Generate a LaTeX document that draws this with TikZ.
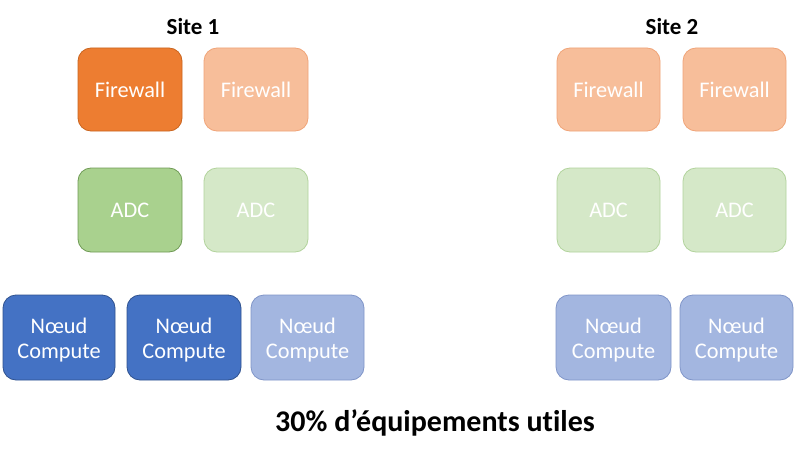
\documentclass[tikz,border=0pt]{standalone}
\usepackage{fontspec}
\setmainfont{Carlito}[Ligatures=NoCommon]
\definecolor{fwD}{HTML}{ED7D31}
\definecolor{fwDb}{HTML}{C9651F}
\definecolor{fwL}{HTML}{F7BE9A}
\definecolor{fwLb}{HTML}{F0A478}
\definecolor{adD}{HTML}{A9D18E}
\definecolor{adDb}{HTML}{6F9A55}
\definecolor{adL}{HTML}{D5E8C8}
\definecolor{adLb}{HTML}{B2D39C}
\definecolor{cpD}{HTML}{4472C4}
\definecolor{cpDb}{HTML}{2F528F}
\definecolor{cpL}{HTML}{A3B6E0}
\definecolor{cpLb}{HTML}{8095C8}
\tikzset{
  box/.style={rounded corners=13pt, line width=0.8pt, text=white, font=\fontsize{22.3}{25}\selectfont, align=center, inner sep=0pt},
  fwdark/.style={box, fill=fwD, draw=fwDb},
  fwlight/.style={box, fill=fwL, draw=fwLb},
  addark/.style={box, fill=adD, draw=adDb},
  adlight/.style={box, fill=adL, draw=adLb},
  cpdark/.style={box, fill=cpD, draw=cpDb},
  cplight/.style={box, fill=cpL, draw=cpLb},
  cptext/.style={yshift=-2.5pt},
  title/.style={font=\bfseries\fontsize{23}{27}\selectfont, text=black}
}
\begin{document}
\begin{tikzpicture}[x=1pt,y=-1pt]
\useasboundingbox[fill=white] (0,0) rectangle (800,460);
% Site 1
\node[title] (s1) at (193,27) {Site 1};
\node[title] (s2) at (672,27) {Site 2};
\draw[fwdark] (78,48) rectangle (182,131) node[midway] (f1) {Firewall};
\draw[fwlight] (204,48) rectangle (308,131) node[midway] (f2) {Firewall};
\draw[addark] (78,168) rectangle (182,252) node[midway] (a1) {ADC};
\draw[adlight] (204,168) rectangle (308,252) node[midway] (a2) {ADC};
\draw[cpdark] (3,295) rectangle (115,380) node[midway,cptext] (c1) {Nœud\\Compute};
\draw[cpdark] (127,295) rectangle (241,380) node[midway,cptext] (c2) {Nœud\\Compute};
\draw[cplight] (251,295) rectangle (364,380) node[midway,cptext] (c3) {Nœud\\Compute};
% Site 2
\draw[fwlight] (557,48) rectangle (660,131) node[midway] (f3) {Firewall};
\draw[fwlight] (683,48) rectangle (786,131) node[midway] (f4) {Firewall};
\draw[adlight] (557,168) rectangle (660,252) node[midway] (a3) {ADC};
\draw[adlight] (683,168) rectangle (786,252) node[midway] (a4) {ADC};
\draw[cplight] (556,295) rectangle (671,380) node[midway,cptext] (c4) {Nœud\\Compute};
\draw[cplight] (680,295) rectangle (793,380) node[midway,cptext] (c5) {Nœud\\Compute};
\node[font=\bfseries\fontsize{30}{34}\selectfont] (bt) at (435,423) {30\% d’équipements utiles};
\end{tikzpicture}
\end{document}
